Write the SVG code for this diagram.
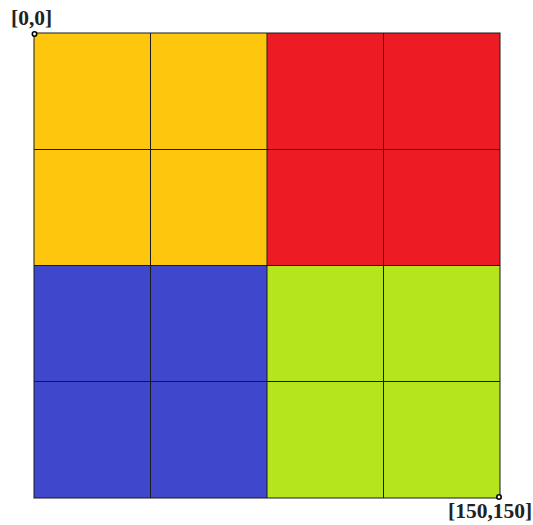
<svg xmlns="http://www.w3.org/2000/svg" width="533" height="525" viewBox="0 0 533 525">
<style>
.g{stroke:#1a1a1a;stroke-width:1;fill:none}
.lbl{font-family:"Liberation Serif",serif;font-size:21.5px;font-weight:bold;fill:#222}
.pt{fill:#fff;stroke:#000;stroke-width:1.6}
</style>
<rect width="533" height="525" fill="#fff"/>
<g id="quadrants">
<rect x="34" y="33" width="233" height="232.5" fill="#FFC60E"/>
<rect x="267" y="33" width="233" height="232.5" fill="#ED1C24"/>
<rect x="34" y="265.5" width="233" height="232.5" fill="#3F48CC"/>
<rect x="267" y="265.5" width="233" height="232.5" fill="#B5E61D"/>
</g>
<g id="grid" class="g">
<rect x="34" y="33" width="466" height="465"/>
<line x1="150.5" y1="33" x2="150.5" y2="498"/>
<line x1="267" y1="33" x2="267" y2="498"/>
<line x1="383.5" y1="33" x2="383.5" y2="498"/>
<line x1="34" y1="149.5" x2="500" y2="149.5"/>
<line x1="34" y1="265.5" x2="500" y2="265.5"/>
<line x1="34" y1="381.5" x2="500" y2="381.5"/>
</g>
<g id="corners">
<circle class="pt" cx="34.5" cy="34" r="2.2"/>
<circle class="pt" cx="499" cy="497" r="2.2"/>
<text class="lbl" x="11" y="25">[0,0]</text>
<text class="lbl" x="448" y="518">[150,150]</text>
</g>
</svg>
